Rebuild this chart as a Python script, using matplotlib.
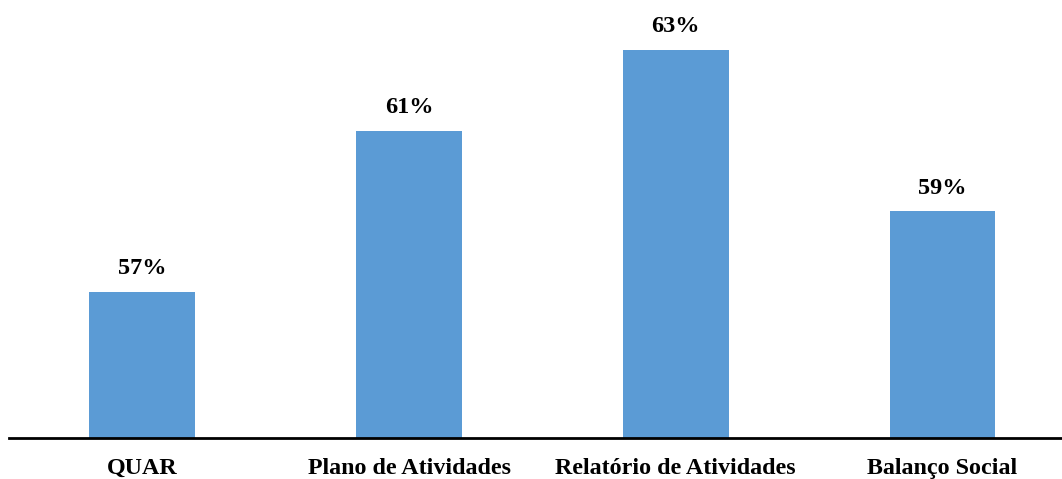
import matplotlib
matplotlib.use("Agg")
import matplotlib.pyplot as plt

categories = ["QUAR", "Plano de Atividades", "Relatório de Atividades", "Balanço Social"]
values = [57, 61, 63, 59]
value_labels = ["57%", "61%", "63%", "59%"]

plt.rcParams["font.family"] = ["Liberation Serif", "DejaVu Serif"]

fig = plt.figure(figsize=(10.62, 4.79), dpi=100)
ax = fig.add_axes([9 / 1062, (479 - 438) / 479, 1 - 9 / 1062, (438 - 10) / 479])

x = list(range(len(categories)))
bars = ax.bar(x, values, width=0.397, color="#5B9BD5", zorder=2)

ax.set_ylim(53.37, 63.99)
ax.set_xlim(-0.5, -0.5 + (1062 - 9) / 266.7)

for xi, v, lab in zip(x, values, value_labels):
    ax.annotate(lab, (xi, v), xytext=(0, 16.5), textcoords="offset points",
                ha="center", va="center", fontsize=17.5, fontweight="bold")

ax.set_xticks(x)
ax.set_xticklabels(categories, fontsize=17.3, fontweight="bold")
ax.tick_params(axis="x", length=0, pad=14.5)
ax.set_yticks([])

for side in ("left", "right", "top"):
    ax.spines[side].set_visible(False)
ax.spines["bottom"].set_linewidth(2)
ax.spines["bottom"].set_color("black")

fig.savefig("out.png", dpi=100)
